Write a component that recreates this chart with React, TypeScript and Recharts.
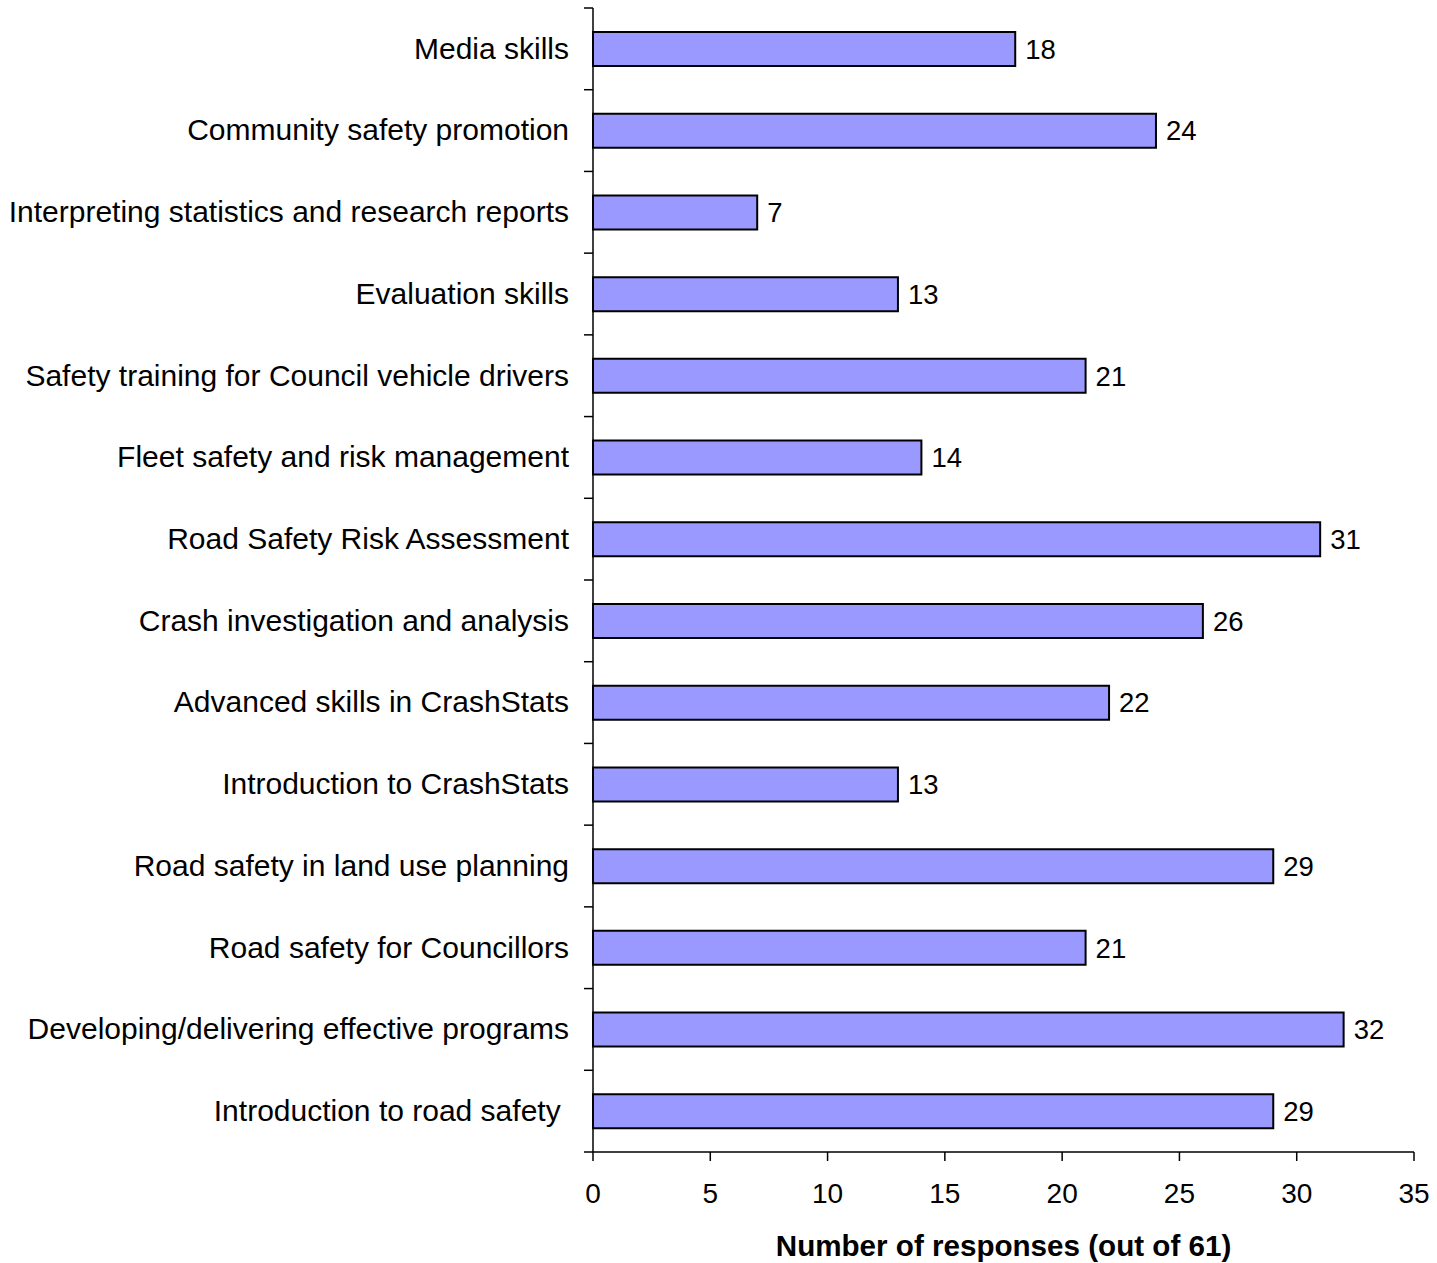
import { BarChart, Bar, XAxis, YAxis, LabelList } from 'recharts';

const categories = [
  'Media skills',
  'Community safety promotion',
  'Interpreting statistics and research reports',
  'Evaluation skills',
  'Safety training for Council vehicle drivers',
  'Fleet safety and risk management',
  'Road Safety Risk Assessment',
  'Crash investigation and analysis',
  'Advanced skills in CrashStats',
  'Introduction to CrashStats',
  'Road safety in land use planning',
  'Road safety for Councillors',
  'Developing/delivering effective programs',
  'Introduction to road safety\u00a0',
];

const responses = [18, 24, 7, 13, 21, 14, 31, 26, 22, 13, 29, 21, 32, 29];

const xTicks = [0, 5, 10, 15, 20, 25, 30, 35];

const data = categories.map((name, i) => ({ name, value: responses[i] }));

const FONT = 'Liberation Sans, Arial, sans-serif';

// category label in the middle of the band, tick marks on the band edges (Excel style)
const CategoryTick = (props: any) => {
  const { x, y, payload, index, visibleTicksCount } = props;
  const half = payload.offset || 0;
  const axisX = x + 24;
  return (
    <g>
      <line x1={axisX - 9} x2={axisX} y1={y - half} y2={y - half} stroke="#000" strokeWidth={1.5} />
      {index === visibleTicksCount - 1 && (
        <line x1={axisX - 9} x2={axisX} y1={y + half} y2={y + half} stroke="#000" strokeWidth={1.5} />
      )}
      <text x={x} y={y} dy="0.33em" textAnchor="end" fill="#000" fontSize={30} fontFamily={FONT}>
        {payload.value}
      </text>
    </g>
  );
};

const App = () => {
  return (
    <div style={{ position: 'absolute', left: 0, top: 0, background: '#fff' }}>
      <BarChart
        width={1437}
        height={1263}
        data={data}
        layout="vertical"
        margin={{ top: 8, right: 23, left: 0, bottom: 0 }}
      >
        <XAxis
          type="number"
          domain={[0, 35]}
          ticks={xTicks}
          height={111}
          tickSize={9}
          tickMargin={22}
          axisLine={{ stroke: '#000', strokeWidth: 1.5 }}
          tickLine={{ stroke: '#000', strokeWidth: 1.5 }}
          tick={{ fill: '#000', fontSize: 28, fontFamily: FONT }}
          label={{
            value: 'Number of responses (out of 61)',
            position: 'insideBottom',
            offset: 7,
            fill: '#000',
            fontSize: 29.6,
            fontWeight: 'bold',
            fontFamily: FONT,
          }}
        />
        <YAxis
          type="category"
          dataKey="name"
          width={593}
          interval={0}
          tickLine={false}
          tickSize={0}
          tickMargin={24}
          axisLine={{ stroke: '#000', strokeWidth: 1.5 }}
          tick={<CategoryTick />}
        />
        <Bar
          dataKey="value"
          fill="#9999ff"
          stroke="#000"
          strokeWidth={2}
          barSize={34}
          isAnimationActive={false}
        >
          <LabelList
            dataKey="value"
            position="right"
            offset={10}
            fill="#000"
            fontSize={27.5}
            fontFamily={FONT}
          />
        </Bar>
      </BarChart>
    </div>
  );
};

export default App;
